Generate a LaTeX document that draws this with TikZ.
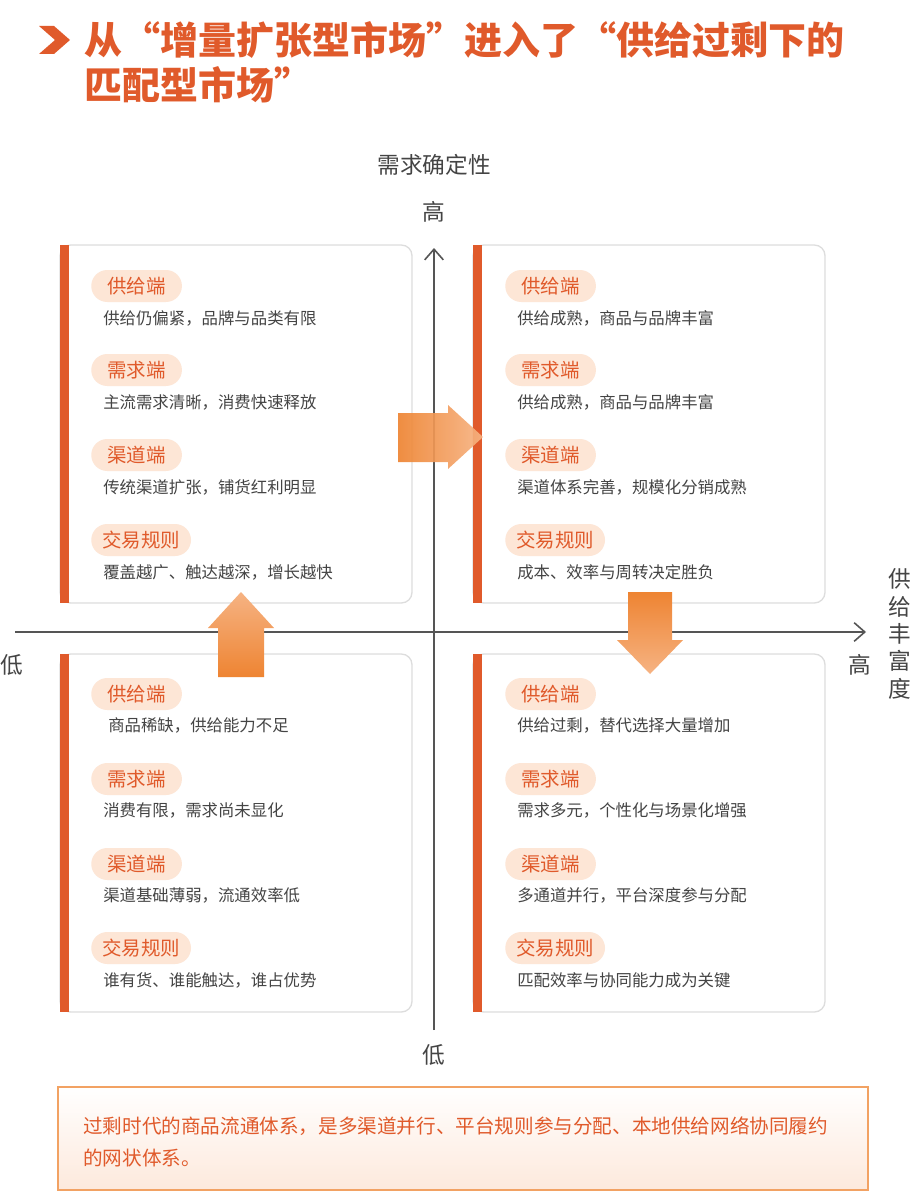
\documentclass[tikz,border=0pt]{standalone}
\usepackage{fontspec}
\setmainfont{Noto Sans CJK SC}
\usetikzlibrary{arrows.meta}
\definecolor{accent}{HTML}{E05A2B}
\definecolor{pillbg}{HTML}{FDE6D6}
\definecolor{desc}{HTML}{444444}
\definecolor{axis}{HTML}{555555}
\definecolor{cardline}{HTML}{DDDDDD}
\definecolor{arrdark}{HTML}{EE8432}
\definecolor{arrlight}{HTML}{F6B383}
\definecolor{notebd}{HTML}{F2A263}
\definecolor{notebg}{HTML}{FDE9DC}
\tikzset{
  pill/.style={fill=pillbg, rounded corners=12pt, text=accent, font=\fontsize{14.6pt}{16pt}\selectfont, inner xsep=8.2pt, minimum width=68pt, minimum height=24pt, anchor=west},
  desctext/.style={text=desc, font=\fontsize{12.3pt}{15pt}\selectfont, anchor=west, inner sep=0pt},
  axislabel/.style={text=axis!80!black, font=\fontsize{17pt}{19pt}\selectfont, inner sep=0pt},
  cardbox/.style={draw=cardline, line width=1pt, fill=white, rounded corners=8pt},
  cardbar/.style={fill=accent},
  axisline/.style={draw=axis, line width=1.2pt, -{Straight Barb[length=8pt,width=14pt]}},
}
\begin{document}
\begin{tikzpicture}[x=0.75pt,y=-0.75pt]
\useasboundingbox (0,0) rectangle (922,1198);
% title
\fill[accent] (39,26) -- (54,26) -- (70,40) -- (54,54) -- (39,54) -- (55,40) -- cycle;
\node[anchor=west, text=accent, font=\fontsize{28.5pt}{36pt}\selectfont\bfseries, inner sep=0pt] (title1) at (84,40) {从“增量扩张型市场”进入了“供给过剩下的};
\node[anchor=west, text=accent, font=\fontsize{28.5pt}{36pt}\selectfont\bfseries, inner sep=0pt] (title2) at (84,85) {匹配型市场”};
% axis labels
\node[axislabel] (ylab) at (434,165) {需求确定性};
\node[axislabel] (yhigh) at (434,212) {高};
\node[axislabel] (ylow) at (434,1055) {低};
\node[axislabel] (xlow) at (12,665) {低};
\node[axislabel] (xhigh) at (860,665) {高};
\node[axislabel, align=center, font=\fontsize{17pt}{20.5pt}\selectfont] (xlab) at (900,634) {供\\给\\丰\\富\\度};
% axes
\coordinate (yb) at (434,1030);
\coordinate (yt) at (434,248);
\coordinate (xl) at (15,632);
\coordinate (xr) at (866,632);
\draw[axisline] (yb) -- (yt);
\draw[axisline] (xl) -- (xr);
% cards
\foreach \x/\y in {60/245, 473/245, 60/654, 473/654}{
  \draw[cardbox] (\x,\y) rectangle ++(352,358);
  \fill[cardbar] (\x,\y) rectangle ++(9,358);
}
% top-left
\node[pill] (tl1) at (91,286) {供给端};
\node[desctext] (tl1d) at (103,318) {供给仍偏紧，品牌与品类有限};
\node[pill] (tl2) at (91,370) {需求端};
\node[desctext] (tl2d) at (103,402) {主流需求清晰，消费快速释放};
\node[pill] (tl3) at (91,455) {渠道端};
\node[desctext] (tl3d) at (103,487) {传统渠道扩张，铺货红利明显};
\node[pill] (tl4) at (91,540) {交易规则};
\node[desctext] (tl4d) at (103,572) {覆盖越广、触达越深，增长越快};
% top-right
\node[pill] (tr1) at (505,286) {供给端};
\node[desctext] (tr1d) at (517,318) {供给成熟，商品与品牌丰富};
\node[pill] (tr2) at (505,370) {需求端};
\node[desctext] (tr2d) at (517,402) {供给成熟，商品与品牌丰富};
\node[pill] (tr3) at (505,455) {渠道端};
\node[desctext] (tr3d) at (517,487) {渠道体系完善，规模化分销成熟};
\node[pill] (tr4) at (505,540) {交易规则};
\node[desctext] (tr4d) at (517,572) {成本、效率与周转决定胜负};
% bottom-left
\node[pill] (bl1) at (91,694) {供给端};
\node[desctext] (bl1d) at (108,725) {商品稀缺，供给能力不足};
\node[pill] (bl2) at (91,779) {需求端};
\node[desctext] (bl2d) at (103,810) {消费有限，需求尚未显化};
\node[pill] (bl3) at (91,864) {渠道端};
\node[desctext] (bl3d) at (103,895) {渠道基础薄弱，流通效率低};
\node[pill] (bl4) at (91,948) {交易规则};
\node[desctext] (bl4d) at (103,980) {谁有货、谁能触达，谁占优势};
% bottom-right
\node[pill] (br1) at (505,694) {供给端};
\node[desctext] (br1d) at (517,725) {供给过剩，替代选择大量增加};
\node[pill] (br2) at (505,779) {需求端};
\node[desctext] (br2d) at (517,810) {需求多元，个性化与场景化增强};
\node[pill] (br3) at (505,864) {渠道端};
\node[desctext] (br3d) at (517,895) {多通道并行，平台深度参与分配};
\node[pill] (br4) at (505,948) {交易规则};
\node[desctext] (br4d) at (517,980) {匹配效率与协同能力成为关键};
% arrows between quadrants
\shade[left color=arrdark, right color=arrlight, opacity=0.92] (398,413) -- (448,413) -- (448,405) -- (483,437) -- (448,469) -- (448,462) -- (398,462) -- cycle;
\shade[top color=arrlight, bottom color=arrdark] (218,677) -- (218,628) -- (208,628) -- (241,592) -- (274,628) -- (264,628) -- (264,677) -- cycle;
\shade[top color=arrdark, bottom color=arrlight] (628,592) -- (672,592) -- (672,640) -- (683,640) -- (650,674) -- (617,640) -- (628,640) -- cycle;
% note
\shade[top color=white, bottom color=notebg] (58,1087) rectangle (868,1190);
\draw[notebd, line width=1.2pt] (58,1087) rectangle (868,1190);
\node[anchor=west, text=accent, font=\fontsize{14.7pt}{24pt}\selectfont, align=left, inner sep=0pt] (note) at (83,1142) {过剩时代的商品流通体系，是多渠道并行、平台规则参与分配、本地供给网络协同履约\\的网状体系。};
\end{tikzpicture}
\end{document}
